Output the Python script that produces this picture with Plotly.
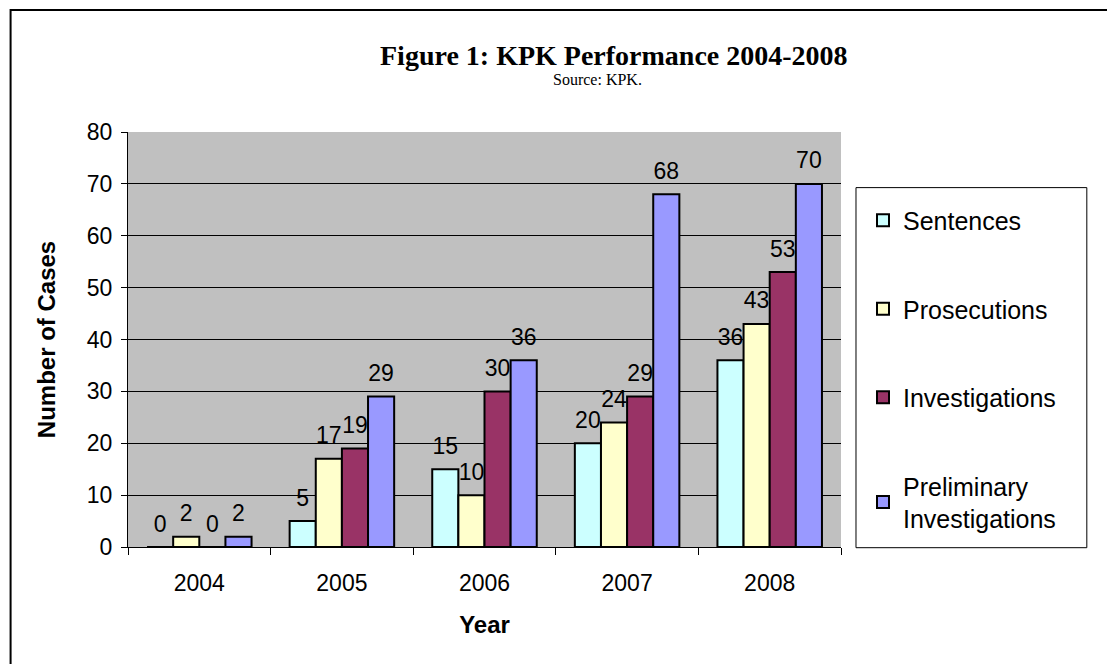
import plotly.graph_objects as go

years = ["2004", "2005", "2006", "2007", "2008"]
series_names = ["Sentences", "Prosecutions", "Investigations", "Preliminary<br>Investigations"]
sentences = [0, 5, 15, 20, 36]
prosecutions = [2, 17, 10, 24, 43]
investigations = [0, 19, 30, 29, 53]
preliminary = [2, 29, 36, 68, 70]
colors = ["#CCFFFF", "#FFFFCC", "#993366", "#9999FF"]

OFF = 8  # page body margin
W, H = 1115 - OFF, 664 - OFF
# plot area in screen coordinates
L, R, T, B = 127.5, 841.0, 132.4, 547.3
pw, ph = R - L, B - T
GAP = 0.267


def px(x):
    return (x - L) / pw


def py(y):
    return (B - y) / ph


SANS = "Liberation Sans, Arial"
SERIF = "Liberation Serif, Times New Roman"

all_series = [sentences, prosecutions, investigations, preliminary]
fig = go.Figure()
for i, (name, vals) in enumerate(zip(series_names, all_series)):
    fig.add_trace(go.Bar(
        x=years, y=vals, name=name, legendgroup=f"g{i}",
        marker=dict(color=colors[i], line=dict(color="black", width=2)),
        hoverinfo="x+y+name",
    ))
for i, (name, vals) in enumerate(zip(series_names, all_series)):
    fig.add_trace(go.Scatter(
        x=years, y=vals, name=name, showlegend=False, legendgroup=f"g{i}",
        mode="markers+text", marker=dict(size=14, opacity=0),
        text=[str(v) for v in vals], textposition="top center",
        textfont=dict(family=SANS, size=23, color="black"),
        cliponaxis=False, hoverinfo="skip",
    ))

fig.update_layout(
    width=W, height=H,
    margin=dict(l=L - OFF, r=W - (R - OFF), t=T - OFF, b=H - (B - OFF), pad=0),
    paper_bgcolor="white", plot_bgcolor="#C0C0C0",
    barmode="group", bargap=GAP, bargroupgap=0,
    scattermode="group", scattergap=GAP,
    font=dict(family=SANS, size=23, color="black"),
    showlegend=True,
    legend=dict(
        x=px(863), y=py(198), xanchor="left", yanchor="top",
        bgcolor="rgba(0,0,0,0)", borderwidth=0,
        font=dict(family=SANS, size=25, color="black"),
        tracegroupgap=53,
    ),
    xaxis=dict(
        type="category", tickson="boundaries", ticks="outside", ticklen=7,
        tickcolor="black", showline=True, linecolor="black", linewidth=1,
        showgrid=False, tickfont=dict(size=23), ticklabelstandoff=15,
        title=dict(text="<b>Year</b>", font=dict(size=24), standoff=21),
    ),
    yaxis=dict(
        range=[0, 80], dtick=10, ticks="outside", ticklen=6, tickcolor="black",
        showline=True, linecolor="black", linewidth=1,
        showgrid=True, gridcolor="black", gridwidth=1, zeroline=False,
        tickfont=dict(size=23), ticklabelstandoff=4,
        title=dict(text="<b>Number of Cases</b>", font=dict(size=24), standoff=24),
    ),
    shapes=[
        dict(type="rect", xref="paper", yref="paper",
             x0=px(10), x1=px(1130), y0=py(680), y1=py(10.5),
             line=dict(color="black", width=2), layer="below"),
        dict(type="rect", xref="paper", yref="paper",
             x0=px(856), x1=px(1087), y0=py(548), y1=py(188),
             line=dict(color="black", width=1)),
    ],
    annotations=[
        dict(text="<b>Figure 1: KPK Performance 2004-2008</b>", xref="paper", yref="paper",
             x=px(614), y=py(56), xanchor="center", yanchor="middle", showarrow=False,
             font=dict(family=SERIF, size=28, color="black")),
        dict(text="Source: KPK.", xref="paper", yref="paper",
             x=px(597), y=py(80), xanchor="center", yanchor="middle", showarrow=False,
             font=dict(family=SERIF, size=16, color="black")),
    ],
)

fig.write_html("out.html")
